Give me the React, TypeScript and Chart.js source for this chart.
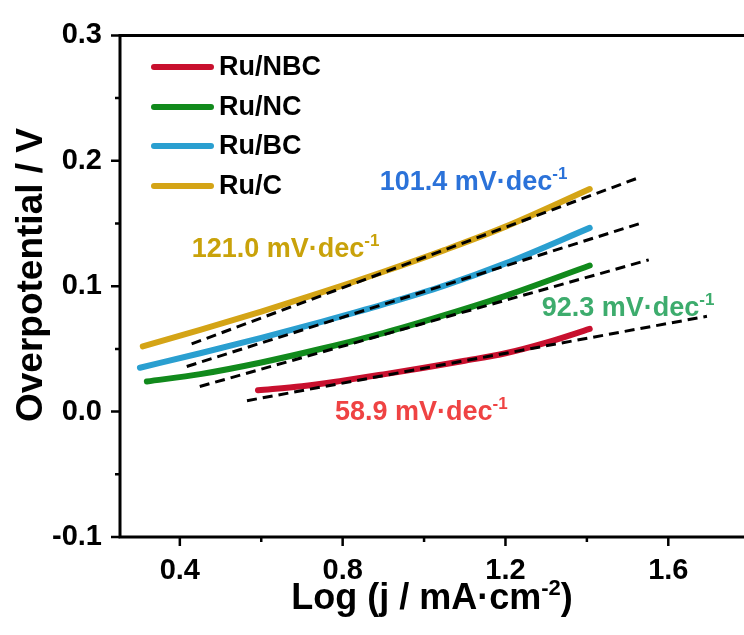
import React, { useEffect, useRef } from "react";
import { Chart, registerables } from "chart.js";
Chart.register(...registerables);

// ---- data ----
const seriesNames = ["Ru/NBC", "Ru/NC", "Ru/BC", "Ru/C"];
const seriesColors = ["#c8102e", "#118a1c", "#2a9fd0", "#d4a416"];

const nbcX = [0.592, 0.7, 0.8, 0.9, 1.0, 1.1, 1.2, 1.3, 1.407];
const nbcY = [0.017, 0.0202, 0.0247, 0.0297, 0.0349, 0.0405, 0.0465, 0.055, 0.066];

const ncX = [0.319, 0.45, 0.6, 0.75, 0.9, 1.05, 1.2, 1.407];
const ncY = [0.024, 0.0299, 0.0392, 0.0503, 0.0626, 0.0769, 0.0923, 0.1165];

const bcX = [0.302, 0.45, 0.6, 0.75, 0.9, 1.05, 1.2, 1.407];
const bcY = [0.035, 0.0465, 0.0588, 0.0718, 0.0855, 0.1005, 0.1182, 0.1465];

const cX = [0.309, 0.45, 0.6, 0.75, 0.9, 1.05, 1.2, 1.407];
const cY = [0.052, 0.0652, 0.0798, 0.0952, 0.1115, 0.1288, 0.1475, 0.1775];

// Tafel fit lines (start, end)
const fitNbcX = [0.565, 1.695];
const fitNbcY = [0.0087, 0.076];
const fitNcX = [0.449, 1.552];
const fitNcY = [0.02, 0.121];
const fitBcX = [0.417, 1.53];
const fitBcY = [0.036, 0.15];
const fitCX = [0.429, 1.523];
const fitCY = [0.054, 0.186];

// Tafel slope labels (value text, anchor in data coords: left x, baseline y)
const slopeTexts = ["58.9 mV·dec", "92.3 mV·dec", "101.4 mV·dec", "121.0 mV·dec"];
const slopeColors = ["#ef4343", "#3dac6d", "#2b72d9", "#c9a20a"];
const slopeX = [0.781, 1.289, 0.891, 0.429];
const slopeY = [-0.0063, 0.0764, 0.1764, 0.1236];

const xTicks = [0.4, 0.8, 1.2, 1.6];
const xMinorTicks = [0.6, 1.0, 1.4];
const yTicks = [-0.1, 0.0, 0.1, 0.2, 0.3];
const yMinorTicks = [-0.05, 0.05, 0.15, 0.25];

const FONT = "'Liberation Sans', Arial, Helvetica, sans-serif";

function zip(xs: number[], ys: number[]) {
  return xs.map((x, i) => ({ x, y: ys[i] }));
}

function drawSup(ctx: CanvasRenderingContext2D, main: string, sup: string, x: number, y: number, size: number, supSize: number, rise: number, color: string, align: "left" | "center" = "left", tail = "") {
  ctx.save();
  ctx.fillStyle = color;
  ctx.textBaseline = "alphabetic";
  ctx.textAlign = "left";
  ctx.font = `bold ${size}px ${FONT}`;
  const w1 = ctx.measureText(main).width;
  const w3 = tail ? ctx.measureText(tail).width : 0;
  ctx.font = `bold ${supSize}px ${FONT}`;
  const w2 = ctx.measureText(sup).width;
  let sx = x;
  if (align === "center") sx = x - (w1 + w2 + w3) / 2;
  ctx.font = `bold ${size}px ${FONT}`;
  ctx.fillText(main, sx, y);
  ctx.font = `bold ${supSize}px ${FONT}`;
  ctx.fillText(sup, sx + w1, y - rise);
  if (tail) {
    ctx.font = `bold ${size}px ${FONT}`;
    ctx.fillText(tail, sx + w1 + w2, y);
  }
  ctx.restore();
}

const decorPlugin = {
  id: "decor",
  afterDraw(chart: any) {
    const ctx: CanvasRenderingContext2D = chart.ctx;
    const { left, right, top, bottom } = chart.chartArea;
    const xs = chart.scales.x;
    const ys = chart.scales.y;
    ctx.save();
    // frame
    ctx.strokeStyle = "#000";
    ctx.lineWidth = 3;
    ctx.lineCap = "square";
    ctx.beginPath();
    ctx.moveTo(right + 2, top);
    ctx.lineTo(left, top);
    ctx.lineTo(left, bottom);
    ctx.lineTo(right + 2, bottom);
    ctx.stroke();
    // ticks
    ctx.lineWidth = 2.5;
    ctx.lineCap = "butt";
    ctx.beginPath();
    xTicks.forEach((v) => {
      const p = xs.getPixelForValue(v);
      ctx.moveTo(p, bottom);
      ctx.lineTo(p, bottom + 9);
    });
    xMinorTicks.forEach((v) => {
      const p = xs.getPixelForValue(v);
      ctx.moveTo(p, bottom);
      ctx.lineTo(p, bottom + 5);
    });
    yTicks.forEach((v) => {
      const p = ys.getPixelForValue(v);
      ctx.moveTo(left, p);
      ctx.lineTo(left - 9, p);
    });
    yMinorTicks.forEach((v) => {
      const p = ys.getPixelForValue(v);
      ctx.moveTo(left, p);
      ctx.lineTo(left - 5, p);
    });
    ctx.stroke();

    // axis titles
    drawSup(ctx, "Log (j / mA·cm", "-2", (left + right) / 2, 609, 36, 22, 14, "#000", "center", ")");
    ctx.save();
    ctx.translate(42, 275);
    ctx.rotate(-Math.PI / 2);
    ctx.font = `bold 37px ${FONT}`;
    ctx.fillStyle = "#000";
    ctx.textAlign = "center";
    ctx.textBaseline = "alphabetic";
    ctx.fillText("Overpotential / V", 0, 0);
    ctx.restore();

    // legend
    const legendRows = [67, 107, 146, 186];
    seriesNames.forEach((name, i) => {
      const yy = legendRows[i];
      ctx.strokeStyle = seriesColors[i];
      ctx.lineWidth = 6;
      ctx.lineCap = "round";
      ctx.beginPath();
      ctx.moveTo(154, yy);
      ctx.lineTo(211, yy);
      ctx.stroke();
      ctx.fillStyle = "#000";
      ctx.font = `bold 27px ${FONT}`;
      ctx.textAlign = "left";
      ctx.textBaseline = "middle";
      ctx.fillText(name, 219, yy + 1);
    });

    // slope labels
    slopeTexts.forEach((t, i) => {
      const px = xs.getPixelForValue(slopeX[i]);
      const py = ys.getPixelForValue(slopeY[i]);
      drawSup(ctx, t, "-1", px, py, 27, 17, 11, slopeColors[i]);
    });
    ctx.restore();
  },
};

export default function App() {
  const ref = useRef<HTMLCanvasElement | null>(null);
  useEffect(() => {
    if (!ref.current) return;
    const curve = (i: number, xs: number[], ys: number[]) => ({
      label: seriesNames[i],
      data: zip(xs, ys),
      borderColor: seriesColors[i],
      backgroundColor: seriesColors[i],
      borderWidth: 6,
      borderCapStyle: "round" as const,
      borderJoinStyle: "round" as const,
      pointRadius: 0,
      showLine: true,
      cubicInterpolationMode: "monotone" as const,
      order: 2,
    });
    const fit = (xs: number[], ys: number[]) => ({
      label: "fit",
      data: zip(xs, ys),
      borderColor: "#000",
      borderWidth: 3,
      borderDash: [10, 6],
      pointRadius: 0,
      showLine: true,
      order: 1,
    });
    const chart = new Chart(ref.current, {
      type: "scatter",
      data: {
        datasets: [
          curve(0, nbcX, nbcY),
          curve(1, ncX, ncY),
          curve(2, bcX, bcY),
          curve(3, cX, cY),
          fit(fitNbcX, fitNbcY),
          fit(fitNcX, fitNcY),
          fit(fitBcX, fitBcY),
          fit(fitCX, fitCY),
        ] as any,
      },
      options: {
        animation: false,
        responsive: false,
        layout: { padding: { top: 29, left: 0, right: 0, bottom: 0 } },
        plugins: { legend: { display: false }, tooltip: { enabled: false } },
        scales: {
          x: {
            type: "linear",
            min: 0.253,
            max: 1.786,
            afterBuildTicks: (s: any) => {
              s.ticks = xTicks.map((v) => ({ value: v }));
            },
            afterFit: (s: any) => {
              s.height = 98;
            },
            grid: { display: false, drawTicks: false },
            border: { display: false },
            ticks: {
              padding: 17,
              color: "#000",
              font: { family: FONT, size: 29, weight: "bold" },
              callback: (v: any) => Number(v).toFixed(1),
              maxRotation: 0,
            },
          },
          y: {
            type: "linear",
            min: -0.1,
            max: 0.3,
            afterBuildTicks: (s: any) => {
              s.ticks = yTicks.map((v) => ({ value: v }));
            },
            afterFit: (s: any) => {
              s.width = 120;
            },
            grid: { display: false, drawTicks: false },
            border: { display: false },
            ticks: {
              padding: 18,
              color: "#000",
              font: { family: FONT, size: 29, weight: "bold" },
              callback: (v: any) => Number(v).toFixed(1),
            },
          },
        },
      },
      plugins: [decorPlugin],
    });
    return () => chart.destroy();
  }, []);
  return (
    <div style={{ position: "fixed", left: 0, top: 0, width: 744, height: 635, background: "#fff" }}>
      <canvas ref={ref} width={744} height={635} style={{ display: "block" }} />
    </div>
  );
}
